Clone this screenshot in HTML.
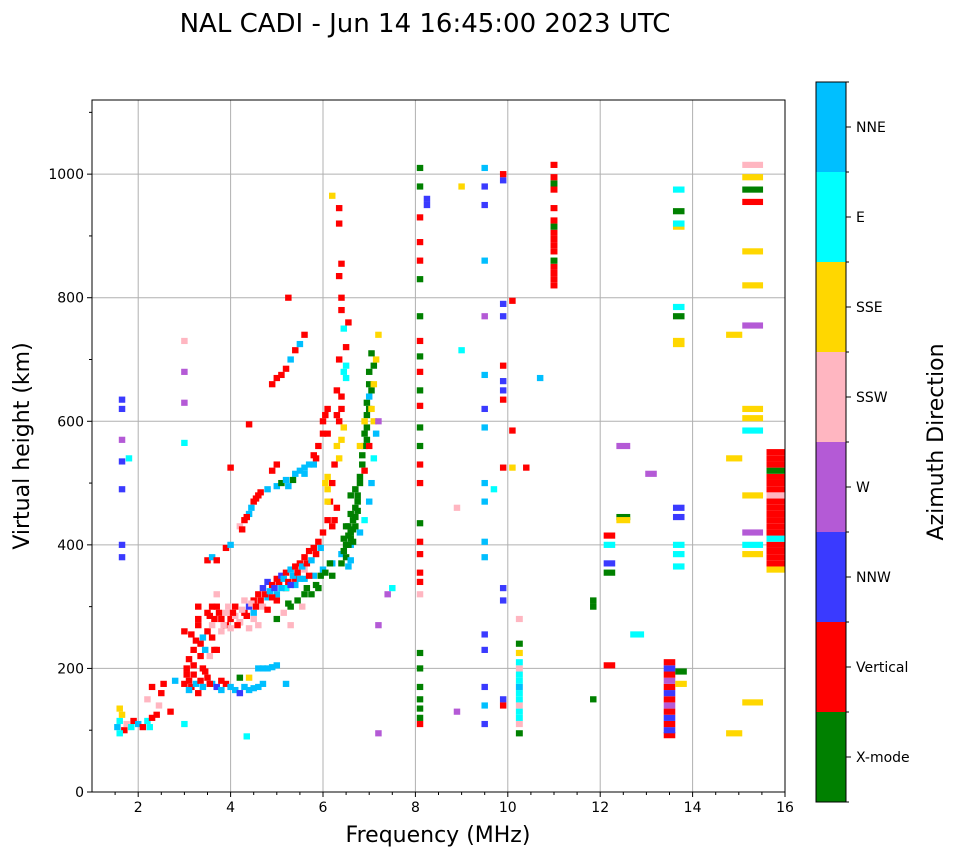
<!DOCTYPE html>
<html><head><meta charset="utf-8"><style>
body{margin:0;background:#fff;}
svg{display:block;font-family:"DejaVu Sans","Liberation Sans",sans-serif;}
</style></head><body>
<svg id="chart" width="958" height="857" viewBox="0 0 958 857">
<text x="425" y="32" font-size="26" text-anchor="middle">NAL CADI - Jun 14 16:45:00 2023 UTC</text>
<g id="grid"></g>
<g id="marks"></g>
<rect x="92" y="100" width="693" height="692" fill="none" stroke="#000" stroke-width="1"/>
<g id="axes"></g>
<text x="438" y="842" font-size="22" text-anchor="middle">Frequency (MHz)</text>
<text transform="translate(29,446) rotate(-90)" font-size="22" text-anchor="middle">Virtual height (km)</text>
<g id="cbar"></g>
<text transform="translate(943,442) rotate(-90)" font-size="22" text-anchor="middle">Azimuth Direction</text>
</svg>
<script>
const dirNames=["X-mode","Vertical","NNW","W","SSW","SSE","E","NNE"];
const dirColors=["#008000","#ff0000","#3a3aff","#b45ad6","#ffb6c1","#ffd700","#00ffff","#00bfff"];
const xTicks=[2,4,6,8,10,12,14,16];
const yTicks=[0,200,400,600,800,1000];
// [frequency MHz, virtual height km, direction index, optional width MHz]
const echoes=[
[1.55,105,7],[1.6,115,6],[1.65,125,5],[1.6,135,5],[1.7,100,1],[1.75,110,4],[1.85,105,6],[1.9,115,1],[2.0,110,7],[2.1,105,1],[2.2,115,6],[2.3,120,1],[2.4,125,1],[2.45,140,4],[2.5,160,1],[2.55,175,1],[2.3,170,1],[2.7,130,1],[2.2,150,4],[1.6,95,6],[2.25,105,6],
[3.0,260,1],[3.05,200,1],[3.1,180,1],[3.15,170,1],[3.2,190,1],[3.25,175,7],[3.3,160,1],[3.35,180,1],[3.1,215,1],[3.2,230,1],[3.3,280,1],[3.3,300,1],[3.4,200,1],[3.0,175,1],[3.1,165,7],[3.05,190,1],[3.2,205,1],
[3.6,175,7],[3.7,170,2],[3.8,165,7],[3.9,175,1],[4.0,170,7],[4.1,165,7],[4.2,160,2],[4.3,170,7],[4.4,165,7],[4.5,168,7],[4.6,170,7],[4.7,175,7],[3.8,180,1],[4.2,185,0],
[4.6,200,7],[4.7,200,7],[4.8,200,7],[4.9,202,7],[5.0,205,7],[5.2,175,7],[4.4,185,5],
[3.6,250,1],[3.65,280,1],[3.7,230,1],[3.7,300,1],[3.8,260,4],[3.9,270,1],[4.0,280,1],[4.1,285,4],[4.2,275,1],[4.3,290,1],[4.4,300,2],[4.5,310,1],[4.6,320,1],[4.7,330,2],[4.8,340,2],[4.9,335,1],[5.0,345,1],[5.1,350,2],[5.2,355,1],[5.3,360,7],[5.4,365,1],[5.5,370,1],[5.6,380,1],[5.7,390,1],[5.8,395,1],[5.9,405,1],[6.0,420,1],[6.1,440,1],[6.15,470,1],[6.2,500,1],[6.25,530,1],[6.3,560,5],[6.35,600,1],[6.4,640,1],[6.45,680,6],[6.5,720,1],[6.55,760,1],[3.7,320,4],[3.9,290,4],[4.1,300,1],[4.3,310,4],[3.65,230,1],[4.0,265,4],[5.0,310,1],[5.2,330,1],[5.4,345,1],[5.6,360,4],
[4.5,290,7],[4.8,315,7],[5.0,320,7],[5.2,330,6],[5.4,335,7],[5.6,345,7],[5.8,350,7],[6.0,360,7],[6.2,370,7],[6.4,385,7],[6.6,400,7],[6.8,420,7],[6.9,440,6],[7.0,470,7],[7.05,500,7],[7.1,540,6],[7.15,580,7],
[5.0,280,0],[5.3,300,0],[5.6,320,0],[5.9,330,0],[6.2,350,0],[6.4,370,0],[6.5,400,0],[6.6,420,0],[6.65,440,0],[6.7,460,0],[6.75,480,0],[6.8,500,0],[6.85,530,0],[6.9,560,0],[6.95,590,0],[7.0,620,0],[7.05,650,0],[7.1,690,0],[6.6,480,0],[6.9,520,1],[7.0,560,1],[7.1,600,5],[7.15,700,5],[7.2,740,5],[6.6,410,0],[6.7,430,0],[6.5,430,0],
[6.45,390,0],[6.55,400,0],[6.65,405,0],[6.5,380,0],[6.55,430,0],[6.6,450,0],[6.7,445,0],[6.75,470,0],[6.8,510,0],[6.85,545,0],[6.9,580,0],[6.95,610,0],[6.95,630,0],[7.0,660,0],[7.0,680,0],[7.05,710,0],[6.95,570,0],[6.45,410,0],[6.55,415,0],[6.65,425,0],[6.75,455,0],[6.7,490,0],[6.8,560,5],[6.9,600,5],[7.05,620,5],[7.1,660,5],[7.0,640,7],[6.6,375,7],[6.55,365,7],
[6.1,470,5],[6.1,490,5],[6.05,500,5],[6.1,510,5],[6.35,540,5],[6.4,570,5],[6.45,590,5],[6.4,620,1],[6.5,670,6],[6.5,690,6],[6.45,750,6],
[6.4,780,1],[6.4,800,1],[6.35,835,1],[6.4,855,1],[6.35,920,1],[6.35,945,1],[6.2,965,5],[6.3,650,1],[6.35,700,1],[6.3,610,1],[6.3,460,1],[6.25,440,1],[6.1,580,1],[6.0,600,1],[6.1,620,1],[6.2,430,1],
[3.5,375,1],[3.6,380,7],[3.7,375,1],[3.9,395,1],[4.0,400,7],[4.2,430,4],[4.3,440,1],[4.4,450,7],[4.5,470,1],[4.6,480,1],[4.8,490,7],[5.0,495,7],[5.1,500,0],[5.2,505,7],[5.4,515,7],[5.6,525,7],[5.7,530,7],[5.8,545,1],[5.9,560,1],[6.0,580,1],[6.05,610,1],[4.2,275,4],[4.4,265,4],[5.3,270,4],
[4.35,445,1],[4.45,460,7],[4.55,475,1],[4.65,485,1],[4.25,425,1],[5.25,495,7],[5.35,505,0],[5.5,520,7],[5.6,515,7],[5.8,530,7],[5.85,540,1],
[4.9,660,1],[5.0,670,1],[5.1,675,1],[5.2,685,1],[5.3,700,7],[5.4,715,1],[5.5,725,7],[5.6,740,1],[5.25,800,1],
[3.3,270,1],[3.4,250,7],[3.5,260,1],[3.55,285,1],[3.6,300,1],[3.75,290,1],[3.8,280,1],[3.85,270,4],[3.95,300,4],[4.05,290,1],[4.15,270,1],[4.25,295,4],[4.35,285,1],[4.45,305,4],[4.55,300,1],[4.65,310,1],[4.75,320,1],[4.85,325,7],[4.95,330,2],[5.05,340,1],[5.15,345,7],[5.25,340,1],[5.35,350,7],[5.45,355,1],[5.55,365,7],[5.65,370,1],[5.75,375,7],[5.85,385,1],[5.95,395,7],[5.1,330,7],[5.3,335,2],[5.5,345,7],[5.7,350,1],[4.9,315,1],[4.7,300,4],[4.8,295,1],[3.35,240,1],[3.45,230,7],[3.55,220,4],[3.6,270,4],[3.5,290,1],[3.25,245,1],[3.15,255,1],[3.35,220,1],[3.45,195,1],[3.55,175,1],[3.4,170,7],[3.5,185,1],[4.5,280,4],[4.6,270,4],[5.15,290,4],[5.25,305,0],[5.45,310,0],[5.55,300,4],[5.65,330,0],[5.75,320,0],[5.85,335,0],[5.95,350,0],[6.05,355,0],[6.15,370,0],
[4.0,525,1],[4.4,595,1],[4.9,520,1],[5.0,530,1],[7.5,330,6],[7.2,270,3],[7.4,320,3],[7.2,95,3],[7.2,600,3],[4.35,90,6],[3.0,110,6],[3.0,565,6],[3.0,630,3],[3.0,680,3],[3.0,730,4],[2.8,180,7],
[1.65,380,2],[1.65,400,2],[1.65,490,2],[1.65,535,2],[1.65,570,3],[1.65,620,2],[1.65,635,2],[1.8,540,6],
[8.1,110,1],[8.1,120,0],[8.1,135,0],[8.1,150,0],[8.1,170,0],[8.1,200,0],[8.1,225,0],[8.1,320,4],[8.1,340,1],[8.1,355,1],[8.1,385,1],[8.1,405,1],[8.1,435,0],[8.1,500,1],[8.1,530,1],[8.1,560,0],[8.1,590,0],[8.1,625,1],[8.1,650,0],[8.1,680,1],[8.1,705,0],[8.1,730,1],[8.1,770,0],[8.1,830,0],[8.1,860,1],[8.1,890,1],[8.1,930,1],[8.1,980,0],[8.1,1010,0],[8.25,950,2],[8.25,960,2],[8.9,460,4],[8.9,130,3],[9.0,980,5],[9.0,715,6],
[9.5,110,2],[9.5,140,7],[9.5,170,2],[9.5,230,2],[9.5,255,2],[9.5,380,7],[9.5,405,7],[9.5,470,7],[9.5,500,7],[9.5,590,7],[9.5,620,2],[9.5,675,7],[9.5,770,3],[9.5,860,7],[9.5,950,2],[9.5,980,2],[9.5,1010,7],[9.7,490,6],
[9.9,150,2],[9.9,140,1],[9.9,310,2],[9.9,330,2],[9.9,525,1],[9.9,635,1],[9.9,650,2],[9.9,665,2],[9.9,690,1],[9.9,770,2],[9.9,790,2],[9.9,990,2],[9.9,1000,1],[10.1,585,1],[10.1,525,5],[10.4,525,1],[10.1,795,1],[10.7,670,7],
[10.25,95,0,0.15],[10.25,110,4,0.15],[10.25,120,6,0.15],[10.25,130,6,0.15],[10.25,140,4,0.15],[10.25,150,6,0.15],[10.25,160,6,0.15],[10.25,170,7,0.15],[10.25,180,6,0.15],[10.25,190,6,0.15],[10.25,200,4,0.15],[10.25,210,6,0.15],[10.25,225,5,0.15],[10.25,240,0,0.15],[10.25,280,4,0.15],
[11,820,1,0.15],[11,830,1,0.15],[11,840,1,0.15],[11,850,1,0.15],[11,860,0,0.15],[11,875,1,0.15],[11,885,1,0.15],[11,895,1,0.15],[11,905,1,0.15],[11,915,0,0.15],[11,925,1,0.15],[11,945,1,0.15],[11,975,1,0.15],[11,985,0,0.15],[11,995,1,0.15],[11,1015,1,0.15],
[11.85,300,0],[11.85,310,0],[11.85,150,0],
[12.2,415,1,0.25],[12.2,400,6,0.25],[12.2,370,2,0.25],[12.2,355,0,0.25],[12.2,205,1,0.25],[12.5,560,3,0.3],[12.5,445,0,0.3],[12.5,440,5,0.3],[12.8,255,6,0.3],[13.1,515,3,0.25],
[13.5,92,1,0.25],[13.5,100,2,0.25],[13.5,110,1,0.25],[13.5,120,2,0.25],[13.5,130,1,0.25],[13.5,140,3,0.25],[13.5,150,1,0.25],[13.5,160,2,0.25],[13.5,170,1,0.25],[13.5,180,3,0.25],[13.5,190,1,0.25],[13.5,200,2,0.25],[13.5,210,1,0.25],
[13.75,195,0,0.25],[13.75,175,5,0.25],[13.7,365,6,0.25],[13.7,385,6,0.25],[13.7,400,6,0.25],[13.7,445,2,0.25],[13.7,460,2,0.25],[13.7,725,5,0.25],[13.7,730,5,0.25],[13.7,770,0,0.25],[13.7,785,6,0.25],[13.7,915,5,0.25],[13.7,920,6,0.25],[13.7,940,0,0.25],[13.7,975,6,0.25],
[14.9,95,5,0.35],[14.9,540,5,0.35],[14.9,740,5,0.35],
[15.3,145,5,0.45],[15.3,385,5,0.45],[15.3,400,6,0.45],[15.3,420,3,0.45],[15.3,480,5,0.45],[15.3,585,6,0.45],[15.3,605,5,0.45],[15.3,620,5,0.45],[15.3,755,3,0.45],[15.3,820,5,0.45],[15.3,875,5,0.45],[15.3,955,1,0.45],[15.3,975,0,0.45],[15.3,995,5,0.45],[15.3,1015,4,0.45],
[15.8,360,5,0.4],[15.8,370,1,0.4],[15.8,380,1,0.4],[15.8,390,1,0.4],[15.8,400,1,0.4],[15.8,410,6,0.4],[15.8,420,1,0.4],[15.8,430,1,0.4],[15.8,440,1,0.4],[15.8,450,1,0.4],[15.8,460,1,0.4],[15.8,470,1,0.4],[15.8,480,4,0.4],[15.8,490,1,0.4],[15.8,500,1,0.4],[15.8,510,1,0.4],[15.8,520,0,0.4],[15.8,530,1,0.4],[15.8,540,1,0.4],[15.8,550,1,0.4]
];
const NS="http://www.w3.org/2000/svg";
const X0=92,X1=785,Y0=792,Y1=100,FMIN=1,FMAX=16,HMIN=0,HMAX=1120;
function xs(f){return X0+(f-FMIN)/(FMAX-FMIN)*(X1-X0);}
function ys(h){return Y0-(h-HMIN)/(HMAX-HMIN)*(Y0-Y1);}
function mk(tag,attrs,parent){const e=document.createElementNS(NS,tag);for(const k in attrs)e.setAttribute(k,attrs[k]);parent.appendChild(e);return e;}
const grid=document.getElementById('grid'),axes=document.getElementById('axes'),marks=document.getElementById('marks'),cbar=document.getElementById('cbar');
xTicks.forEach(t=>{
  const x=xs(t);
  if(t<FMAX){const g=mk('line',{x1:x,x2:x,y1:Y1,y2:Y0,stroke:'#b0b0b0','stroke-width':1},grid);
  
  }
  const tk=mk('line',{x1:x,x2:x,y1:Y0,y2:Y0+5,stroke:'#000'},axes);
  
  
  const lb=mk('text',{x:x,y:Y0+20,'font-size':14,'text-anchor':'middle'},axes);lb.textContent=t;
  
  
});
for(let f=1.5;f<16;f+=0.5){if(xTicks.includes(f))continue;const m=mk('line',{x1:xs(f),x2:xs(f),y1:Y0,y2:Y0+3,stroke:'#000'},axes);
  
  }
yTicks.forEach(t=>{
  const y=ys(t);
  if(t>0){const g=mk('line',{x1:X0,x2:X1,y1:y,y2:y,stroke:'#b0b0b0','stroke-width':1},grid);
  
  }
  const tk=mk('line',{x1:X0-5,x2:X0,y1:y,y2:y,stroke:'#000'},axes);
  
  
  const lb=mk('text',{x:X0-8,y:y+5,'font-size':14,'text-anchor':'end'},axes);lb.textContent=t;
  
  
});
for(let h=100;h<1120;h+=200){const m=mk('line',{x1:X0-3,x2:X0,y1:ys(h),y2:ys(h),stroke:'#000'},axes);
  
  }
echoes.forEach(e=>{
  const w=(e[3]||0.14)/(FMAX-FMIN)*(X1-X0);
  const hh=10/(HMAX-HMIN)*(Y0-Y1);
  const r=mk('rect',{x:xs(e[0])-w/2,y:ys(e[1])-hh/2,width:w,height:hh,fill:dirColors[e[2]]},marks);
  
  
});
const CX=816,CW=30,CT=82,CB=802,seg=(CB-CT)/dirNames.length;
dirNames.forEach((n,i)=>{
  const y=CB-(i+1)*seg;
  const r=mk('rect',{x:CX,y:y,width:CW,height:seg,fill:dirColors[i]},cbar);
  
  
  const t=mk('line',{x1:CX+CW,x2:CX+CW+5,y1:y+seg/2,y2:y+seg/2,stroke:'#000'},cbar);
  
  
  const lb=mk('text',{x:CX+CW+10,y:y+seg/2+5,'font-size':14},cbar);lb.textContent=n;
  
  
});
for(let i=0;i<=dirNames.length;i++){const m=mk('line',{x1:CX+CW,x2:CX+CW+3,y1:CT+i*seg,y2:CT+i*seg,stroke:'#000'},cbar);
  
  }
const fr=mk('rect',{x:CX,y:CT,width:CW,height:CB-CT,fill:'none',stroke:'#000'},cbar);


</script>
</body></html>
